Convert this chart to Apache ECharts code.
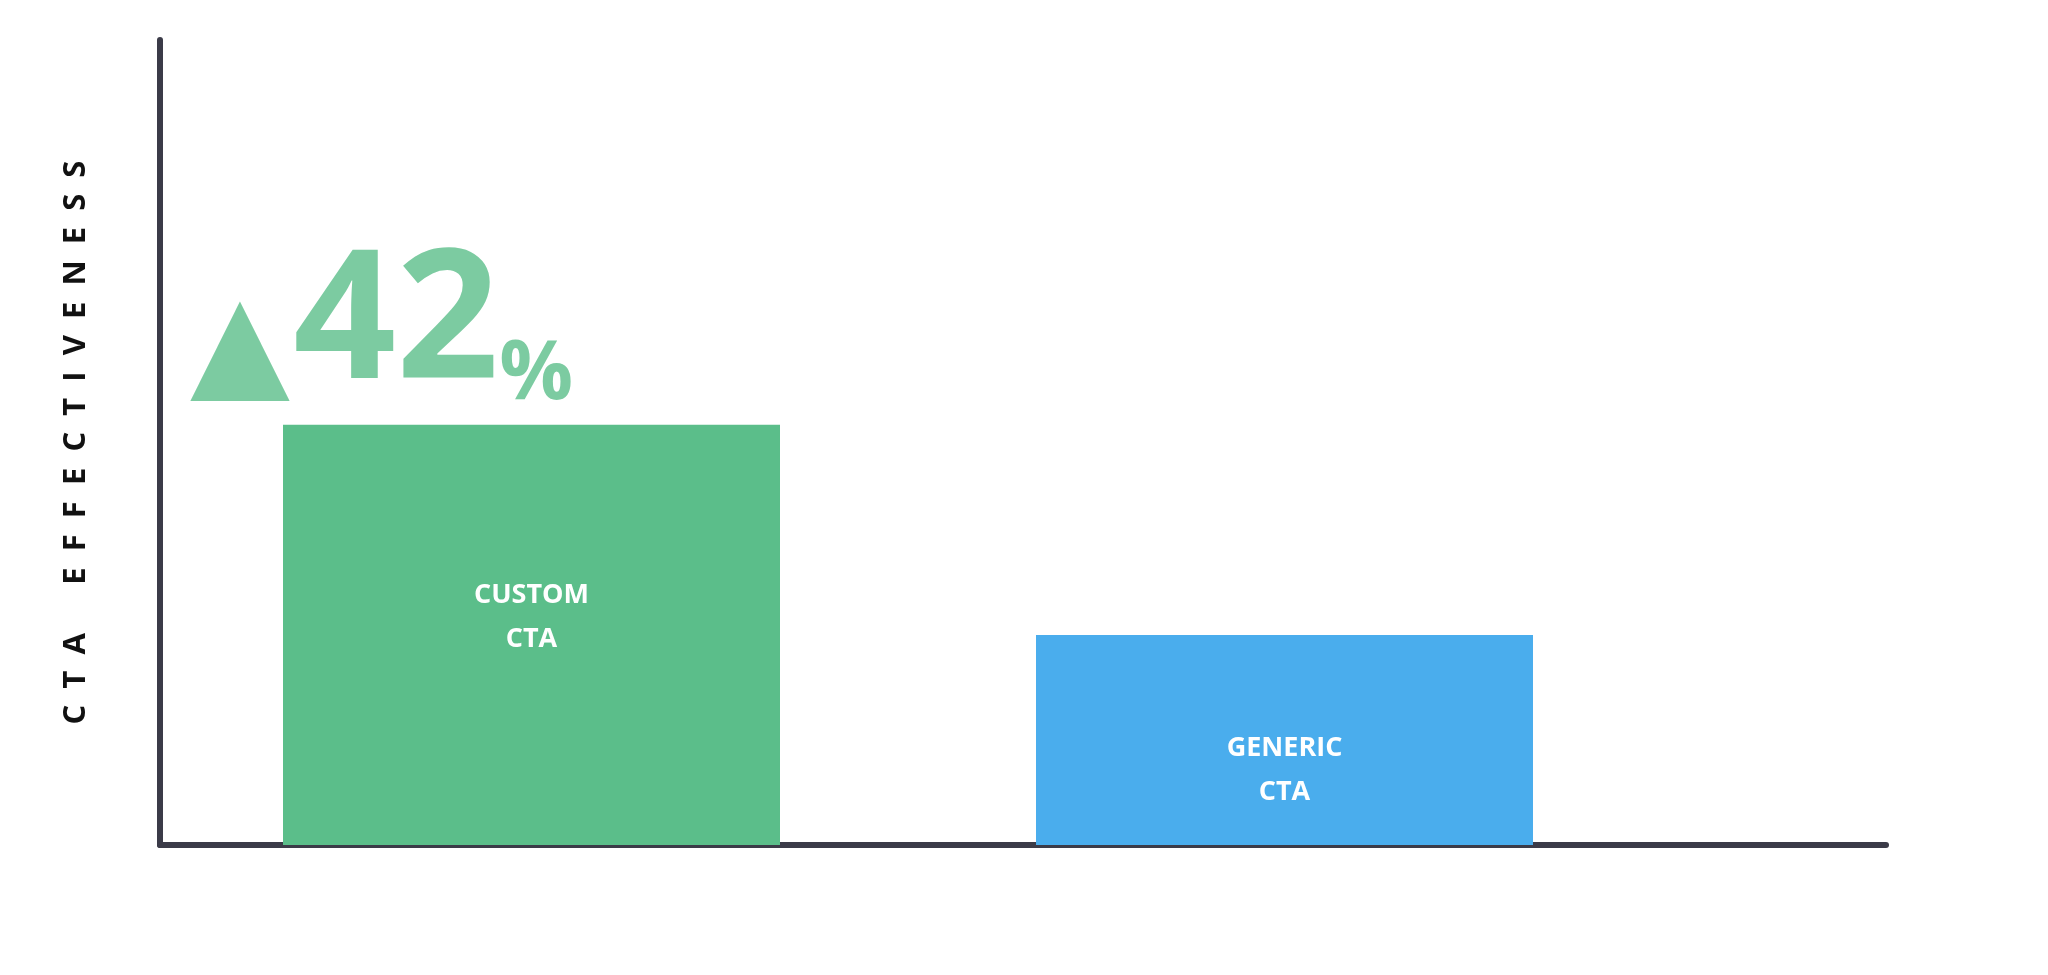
<!DOCTYPE html><html><head><meta charset="utf-8">
<script src="https://cdn.jsdelivr.net/npm/echarts@6/dist/echarts.min.js"></script>
<style>html,body{margin:0;background:#fff}#c{width:2048px;height:975px}</style></head><body><div id="c"></div>
<script>
const categories = ['CUSTOM\nCTA', 'GENERIC\nCTA'];
const values = [52.2, 26.1];
const colors = ['#5bbe8a', '#4aaded'];
const yName = 'C  T  A      E  F  F  E  C  T  I  V  E  N  E  S  S';
const lift = '42';
const chart = echarts.init(document.getElementById('c'));
chart.setOption({
  animation:false,
  grid:[{left:160,right:162,top:40,bottom:130},{left:155,right:387,top:40,bottom:130}],
  xAxis:[
    {gridIndex:0,type:'category',data:[''],axisLine:{lineStyle:{color:'#3b3b48',width:6}},axisTick:{show:false},axisLabel:{show:false}},
    {gridIndex:1,type:'category',data:categories,axisLine:{show:false},axisTick:{show:false},axisLabel:{show:false}}
  ],
  yAxis:[
    {gridIndex:0,type:'value',min:0,max:100,name:yName,nameLocation:'middle',nameGap:68,
     nameTextStyle:{fontFamily:'Open Sans',fontWeight:'bold',fontSize:31,color:'#111'},
     axisLine:{show:true,lineStyle:{color:'#3b3b48',width:6}},axisTick:{show:false},axisLabel:{show:false},splitLine:{show:false}},
    {gridIndex:1,type:'value',min:0,max:100,show:false}
  ],
  series:[{type:'bar',xAxisIndex:1,yAxisIndex:1,barWidth:497,
    data:values.map((v,i)=>({value:v,itemStyle:{color:colors[i]},
      label:{show:true,position:'inside',offset:[0,i===0?-18:30],formatter:'{b}',color:'#fff',fontFamily:'Open Sans',fontWeight:'bold',fontSize:27,lineHeight:44}}))
  },{type:'scatter',xAxisIndex:1,yAxisIndex:1,symbolSize:1,itemStyle:{color:'rgba(0,0,0,0)'},silent:true,
    data:[[0,values[0]]],
    label:{show:true,position:'top',distance:0,offset:[-150,-8],formatter:'{t|▲} {b|'+lift+'}{p|%}',
        rich:{t:{fontSize:130,fontFamily:'DejaVu Sans',color:colors[0],verticalAlign:'bottom'},
              b:{fontSize:180,fontWeight:'bold',fontFamily:'Open Sans',color:colors[0],verticalAlign:'bottom'},
              p:{fontSize:82,fontWeight:'bold',fontFamily:'Open Sans',color:colors[0],verticalAlign:'bottom'}}}
  }]
});
</script></body></html>
